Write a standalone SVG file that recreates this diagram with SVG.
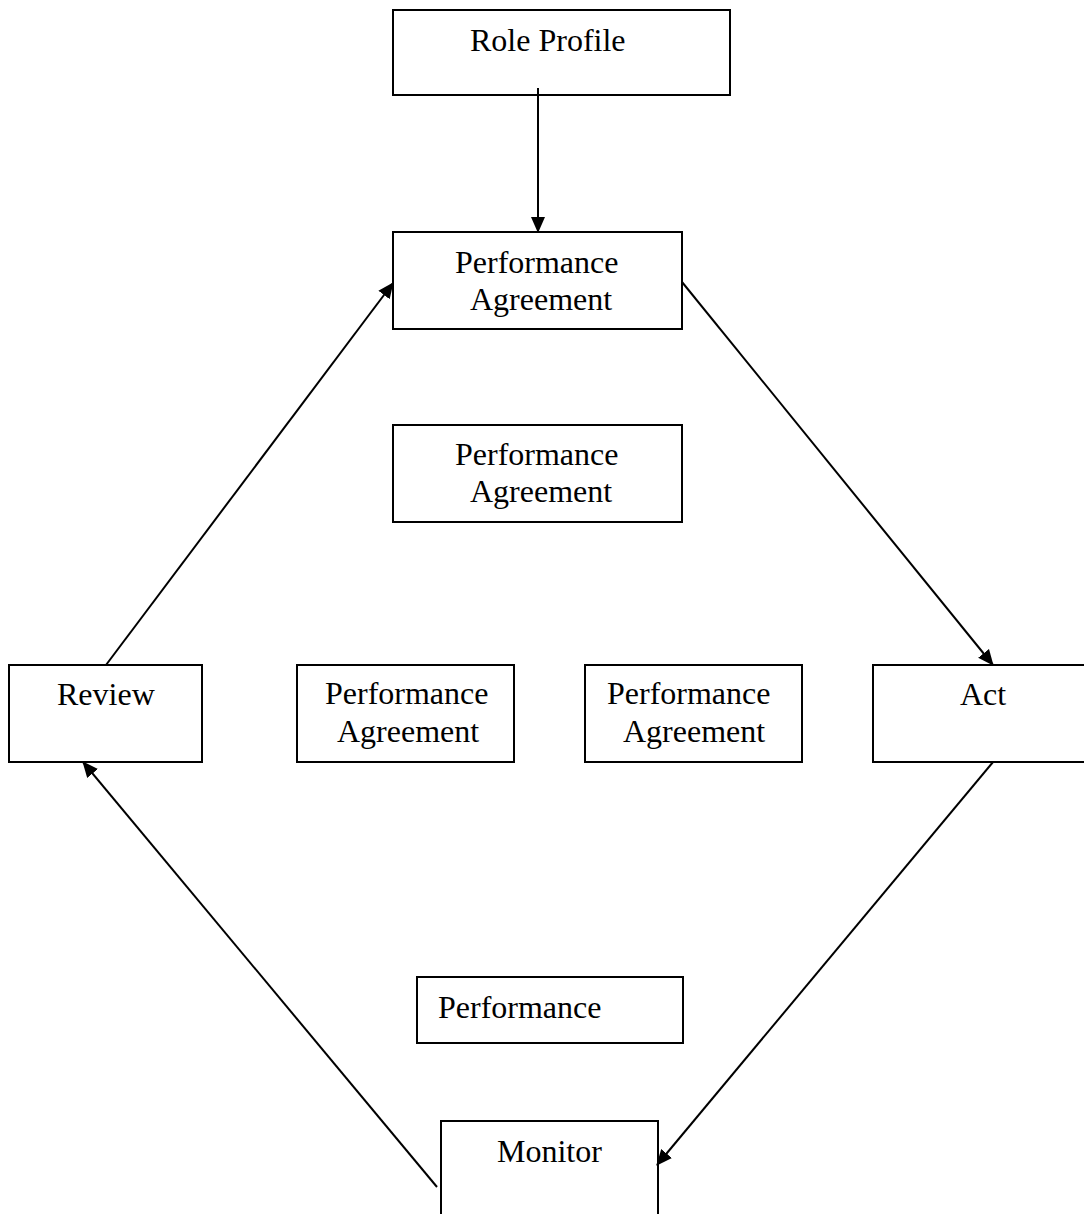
<svg xmlns="http://www.w3.org/2000/svg" width="1084" height="1214" viewBox="0 0 1084 1214">
<style>
.box{fill:#fff;stroke:#000;stroke-width:2}
.lbl{font-family:"Liberation Serif","Times New Roman",serif;font-size:32px;fill:#000}
.conn{stroke:#000;stroke-width:2;fill:none;marker-end:url(#ah)}
</style>
<defs>
<marker id="ah" markerUnits="userSpaceOnUse" markerWidth="16" markerHeight="16" viewBox="0 0 16 16" refX="15" refY="8" orient="auto">
<path d="M0,1 L16,8 L0,15 Z" fill="#000"/>
</marker>
</defs>
<rect width="1084" height="1214" fill="#fff"/>
<g id="role-profile">
<rect class="box" x="393" y="10" width="337" height="85"/>
<text class="lbl" x="470" y="51">Role Profile</text>
</g>
<g id="pa-top">
<rect class="box" x="393" y="232" width="289" height="97"/>
<text class="lbl" x="455" y="273">Performance</text>
<text class="lbl" x="470" y="310">Agreement</text>
</g>
<g id="pa-center">
<rect class="box" x="393" y="425" width="289" height="97"/>
<text class="lbl" x="455" y="465">Performance</text>
<text class="lbl" x="470" y="502">Agreement</text>
</g>
<g id="review">
<rect class="box" x="9" y="665" width="193" height="97"/>
<text class="lbl" x="57" y="705">Review</text>
</g>
<g id="pa-left">
<rect class="box" x="297" y="665" width="217" height="97"/>
<text class="lbl" x="325" y="704">Performance</text>
<text class="lbl" x="337" y="742">Agreement</text>
</g>
<g id="pa-right">
<rect class="box" x="585" y="665" width="217" height="97"/>
<text class="lbl" x="607" y="704">Performance</text>
<text class="lbl" x="623" y="742">Agreement</text>
</g>
<g id="act">
<rect class="box" x="873" y="665" width="220" height="97"/>
<text class="lbl" x="960" y="705">Act</text>
</g>
<g id="performance">
<rect class="box" x="417" y="977" width="266" height="66"/>
<text class="lbl" x="438" y="1018">Performance</text>
</g>
<g id="monitor">
<rect class="box" x="441" y="1121" width="217" height="100"/>
<text class="lbl" x="497" y="1162">Monitor</text>
</g>
<g id="connectors">
<line class="conn" x1="538" y1="88" x2="538" y2="232"/>
<line class="conn" x1="106" y1="665" x2="393" y2="283"/>
<line class="conn" x1="682" y1="282" x2="993" y2="665"/>
<line class="conn" x1="993" y1="762" x2="657" y2="1165"/>
<line class="conn" x1="437" y1="1187" x2="83" y2="762"/>
</g>
</svg>
